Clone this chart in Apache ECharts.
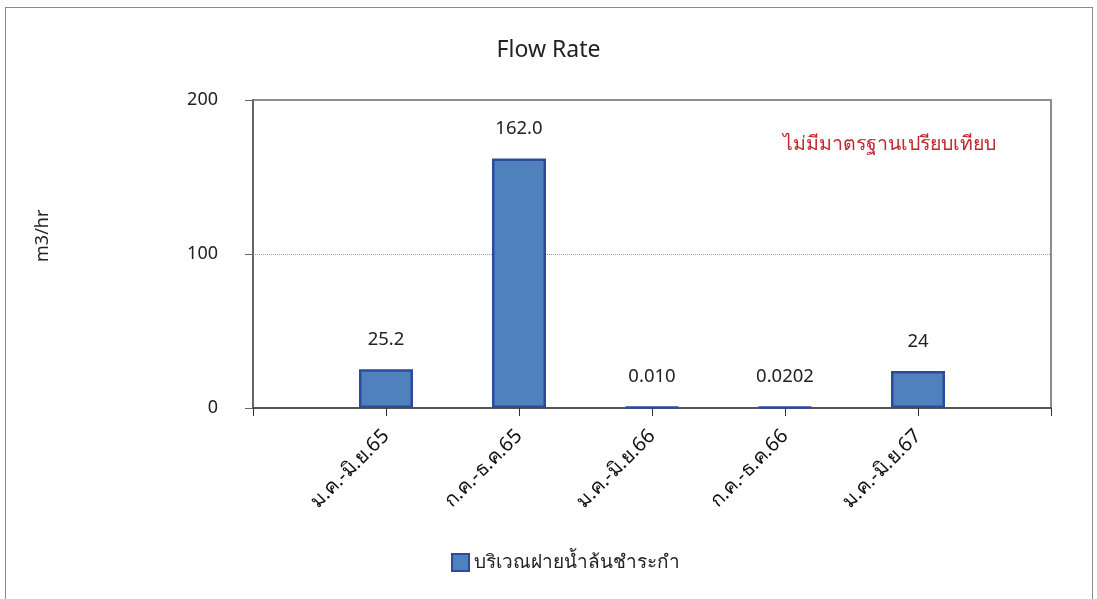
<!DOCTYPE html>
<html>
<head>
<meta charset="utf-8">
<script src="https://cdn.jsdelivr.net/npm/echarts@6/dist/echarts.min.js"></script>
<style>
html,body{margin:0;padding:0;background:#fff;}
#frame{position:absolute;left:5px;top:7px;width:1086px;height:620px;border:1px solid #8a8a8a;}
#chart{position:absolute;left:0;top:0;width:1097px;height:599px;}
</style>
</head>
<body>
<div id="frame"></div>
<div id="chart"></div>
<script>
const categories = ['ม.ค.-มิ.ย.65', 'ก.ค.-ธ.ค.65', 'ม.ค.-มิ.ย.66', 'ก.ค.-ธ.ค.66', 'ม.ค.-มิ.ย.67'];
const flowValues = [25.2, 162.0, 0.010, 0.0202, 24];
const valueLabels = ['25.2', '162.0', '0.010', '0.0202', '24'];
const seriesName = 'บริเวณฝายน้ำล้นชำระกำ';
const noteText = 'ไม่มีมาตรฐานเปรียบเทียบ';
const yAxisTitle = 'm3/hr';
const yMin = 0, yMax = 200, yStep = 100;

const axisCats = [''].concat(categories, ['']);
const barData = [null].concat(flowValues, [null]);
const labelData = [''].concat(valueLabels, ['']);

const font = '"Noto Sans", "DejaVu Sans", sans-serif';
const chart = echarts.init(document.getElementById('chart'));
chart.setOption({
  animation: false,
  title: {
    text: 'Flow Rate', left: 'center', top: 34,
    textStyle: { fontSize: 23, fontWeight: 'normal', color: '#222', fontFamily: font }
  },
  grid: { left: 253, right: 46, top: 100, bottom: 191, show: true, borderColor: '#8c8c8c', borderWidth: 2, backgroundColor: 'transparent' },
  legend: {
    bottom: 22, left: 446, itemWidth: 17, itemHeight: 17, itemGap: 8,
    icon: 'rect',
    textStyle: { fontSize: 19, color: '#222', fontFamily: font },
    data: [seriesName]
  },
  xAxis: {
    type: 'category', data: axisCats, boundaryGap: false,
    axisLine: { lineStyle: { color: '#555', width: 2 } },
    axisTick: { show: true, length: 8, inside: false, lineStyle: { color: '#333', width: 1 } },
    axisLabel: { rotate: 45, interval: 0, margin: 25, fontSize: 20, color: '#111', fontFamily: font },
    splitLine: { show: false }
  },
  yAxis: {
    type: 'value', min: yMin, max: yMax, interval: yStep,
    axisLine: { show: true, lineStyle: { color: '#666', width: 2 } },
    axisTick: { show: true, length: 8, lineStyle: { color: '#666', width: 1 } },
    axisLabel: { margin: 35, fontSize: 18, color: '#222', fontFamily: font },
    splitLine: { show: true, lineStyle: { color: '#999', width: 1, type: 'dotted' } }
  },
  series: [{
    name: seriesName, type: 'bar', data: barData, barWidth: 54, barMinHeight: 1,
    itemStyle: { color: '#4F81BD', borderColor: '#2E4A9E', borderWidth: 2.5 },
    label: {
      show: true, position: 'top', distance: 20, fontSize: 18.5, color: '#222', fontFamily: font,
      formatter: p => labelData[p.dataIndex]
    }
  }],
  graphic: [{
    type: 'text', left: 783, top: 134,
    style: { text: noteText, fontSize: 19.5, fill: '#C0282D', fontFamily: font }
  }, {
    type: 'text', x: 34, y: 262, rotation: Math.PI / 2,
    style: { text: yAxisTitle, fontSize: 18, fill: '#222', fontFamily: font }
  }]
});
</script>
</body>
</html>
